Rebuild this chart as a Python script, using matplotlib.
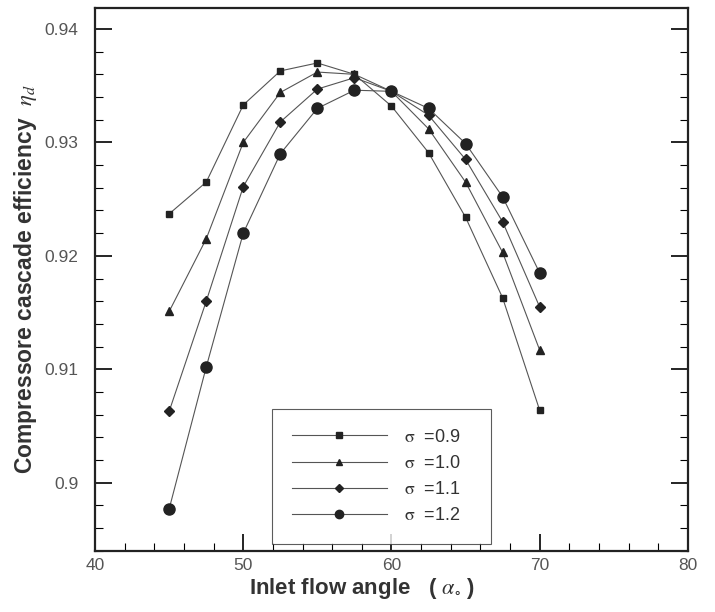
import matplotlib
matplotlib.use('Agg')
import matplotlib.pyplot as plt
from matplotlib.ticker import MultipleLocator, FuncFormatter

plt.rcParams['font.family'] = ['Liberation Sans', 'DejaVu Sans']
plt.rcParams['mathtext.fontset'] = 'stix'

angle = [45, 47.5, 50, 52.5, 55, 57.5, 60, 62.5, 65, 67.5, 70]
eff_09 = [0.9237, 0.9265, 0.9333, 0.9363, 0.9370, 0.9360, 0.9332, 0.9291, 0.9234, 0.9163, 0.9064]
eff_10 = [0.9151, 0.9215, 0.9300, 0.9344, 0.9362, 0.9360, 0.9345, 0.9312, 0.9265, 0.9203, 0.9117]
eff_11 = [0.9063, 0.9160, 0.9261, 0.9318, 0.9347, 0.9357, 0.9345, 0.9324, 0.9285, 0.9230, 0.9155]
eff_12 = [0.8977, 0.9102, 0.9220, 0.9290, 0.9330, 0.9346, 0.9345, 0.9330, 0.9299, 0.9252, 0.9185]
labels = ['0.9', '1.0', '1.1', '1.2']

fig = plt.figure(figsize=(7.15, 6.12), dpi=100)
ax = fig.add_axes([0.133, 0.1, 0.829, 0.887])

series = [eff_09, eff_10, eff_11, eff_12]
markers = ['s', '^', 'D', 'o']
msizes = [5, 6, 5.5, 8]
for ys, m, ms, lab in zip(series, markers, msizes, labels):
    ax.plot(angle, ys, color='#555555', lw=0.8, marker=m, ms=ms,
            mfc='#222222', mec='#222222', label=r'$\mathrm{\sigma}$  =' + lab)

ax.set_xlim(40, 80)
ax.set_ylim(0.894, 0.94185)
ax.xaxis.set_major_locator(MultipleLocator(10))
ax.xaxis.set_minor_locator(MultipleLocator(2))
ax.yaxis.set_major_locator(MultipleLocator(0.01))
ax.yaxis.set_minor_locator(MultipleLocator(0.002))
ax.yaxis.set_major_formatter(FuncFormatter(lambda v, p: '%g' % round(v, 3)))
ax.tick_params(which='both', direction='in', right=True, labelsize=12.5, labelcolor='#555555')
ax.tick_params(which='major', length=12, width=1.2)
ax.tick_params(axis='y', which='major', pad=12)
ax.tick_params(axis='x', which='major', pad=5)
ax.tick_params(which='minor', length=6, width=0.8)
for s in ax.spines.values():
    s.set_linewidth(1.6)
    s.set_color('#222222')

ax.set_xlabel(r'Inlet flow angle   ( $\alpha_{\circ}$ )', fontsize=16, fontweight='bold', color='#333333')
ax.set_ylabel(r'Compressore cascade efficiency  $\eta_d$', fontsize=16.5, fontweight='bold', color='#333333')
ax.xaxis.set_label_coords(0.45, -0.047)
ax.yaxis.set_label_coords(-0.095, 0.5)

leg = ax.legend(loc='lower left', bbox_to_anchor=(0.298, 0.013, 0.37, 0.25), mode='expand',
                fontsize=13, handlelength=5.3, handletextpad=0.9, markerscale=0.75,
                frameon=True, fancybox=False, edgecolor='#333333', borderpad=1.1,
                labelspacing=0.5, borderaxespad=0)
leg.get_frame().set_linewidth(0.8)
for t in leg.get_texts():
    t.set_color('#333333')

fig.savefig('out.png', dpi=100)
